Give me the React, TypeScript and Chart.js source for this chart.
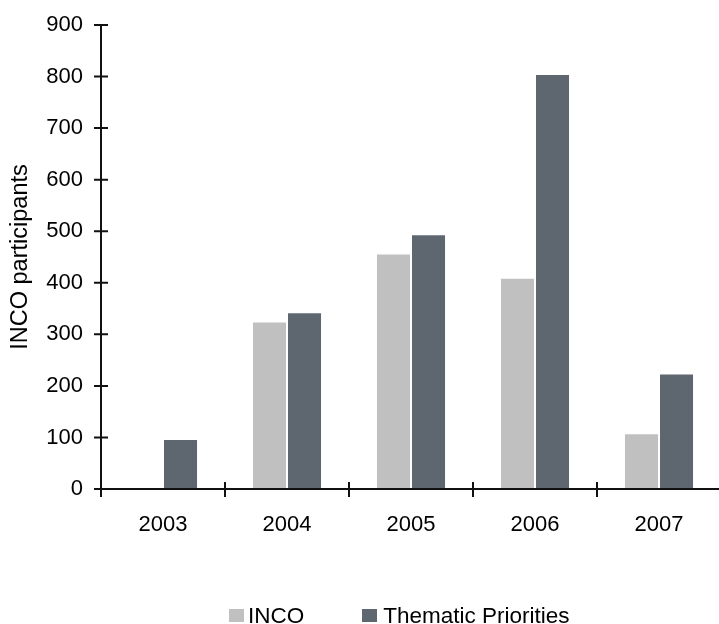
import React, { useEffect, useRef } from "react";
import { Chart, registerables } from "chart.js";

Chart.register(...registerables);

// Participants per call year
const years = ["2003", "2004", "2005", "2006", "2007"];
const incoParticipants = [0, 323, 455, 408, 106];
const thematicParticipants = [95, 341, 492, 803, 222];
const yTickValues = [0, 100, 200, 300, 400, 500, 600, 700, 800, 900];

const seriesNames = ["INCO", "Thematic Priorities"];
const seriesColors = ["#c0c0c0", "#5e6770"];
const yAxisTitle = "INCO participants";

const FONT = "'Liberation Sans', Arial, Helvetica, sans-serif";
const AXIS_COLOR = "#111";

// Axis lines with tick marks that cross the axis on both sides
const crossAxesPlugin = {
  id: "crossAxes",
  afterDatasetsDraw(chart: any) {
    const { ctx, chartArea, scales } = chart;
    const x = scales.x;
    const y = scales.y;
    const left = chartArea.left;
    const bottom = y.getPixelForValue(0);
    const top = y.getPixelForValue(yTickValues[yTickValues.length - 1]);
    ctx.save();
    ctx.strokeStyle = AXIS_COLOR;
    ctx.lineWidth = 2;
    ctx.lineCap = "butt";
    ctx.beginPath();
    // value axis
    ctx.moveTo(left, top);
    ctx.lineTo(left, bottom);
    y.ticks.forEach((_t: any, i: number) => {
      const py = y.getPixelForTick(i);
      ctx.moveTo(left - 7, py);
      ctx.lineTo(left + 7, py);
    });
    // category axis
    ctx.moveTo(left, bottom);
    ctx.lineTo(chartArea.right, bottom);
    for (let i = 0; i <= years.length; i++) {
      const px = x.getPixelForValue(i - 0.5);
      ctx.moveTo(px, bottom - 7);
      ctx.lineTo(px, bottom + 8);
    }
    ctx.stroke();
    ctx.restore();
  },
};

function Legend() {
  return (
    <div
      style={{
        position: "absolute",
        left: 229,
        top: 604,
        display: "flex",
        alignItems: "center",
        fontFamily: FONT,
        fontSize: 22.5,
        lineHeight: "23px",
        color: "#000",
        whiteSpace: "nowrap",
      }}
    >
      {seriesNames.map((name, i) => (
        <div
          key={name}
          style={{
            display: "flex",
            alignItems: "center",
            marginLeft: i === 0 ? 0 : 58,
          }}
        >
          <span
            style={{
              display: "inline-block",
              width: 15,
              height: 13,
              background: seriesColors[i],
              marginRight: i === 0 ? 4 : 6,
            }}
          />
          <span>{name}</span>
        </div>
      ))}
    </div>
  );
}

export default function App() {
  const canvasRef = useRef<HTMLCanvasElement | null>(null);

  useEffect(() => {
    const canvas = canvasRef.current;
    if (!canvas) return;
    const chart = new Chart(canvas, {
      type: "bar",
      data: {
        labels: years,
        datasets: [
          {
            label: seriesNames[0],
            data: incoParticipants,
            backgroundColor: seriesColors[0],
            borderWidth: 0,
          },
          {
            label: seriesNames[1],
            data: thematicParticipants,
            backgroundColor: seriesColors[1],
            borderWidth: 0,
          },
        ],
      },
      options: {
        responsive: false,
        maintainAspectRatio: false,
        animation: false,
        devicePixelRatio: 1,
        layout: { padding: { top: 25, right: 3, left: 0, bottom: 0 } },
        datasets: {
          bar: { categoryPercentage: 0.565, barPercentage: 0.943 },
        },
        plugins: {
          legend: { display: false },
          tooltip: { enabled: false },
        },
        scales: {
          x: {
            offset: true,
            grid: { display: false },
            border: { display: false },
            ticks: {
              color: "#000",
              font: { family: FONT, size: 22 },
              padding: 15,
              maxRotation: 0,
            },
            afterFit: (scale: any) => {
              scale.height = 135;
              scale.paddingLeft = 0;
              scale.paddingRight = 0;
            },
          },
          y: {
            min: 0,
            max: 900,
            grid: { display: false },
            border: { display: false },
            afterBuildTicks: (scale: any) => {
              scale.ticks = yTickValues.map((v) => ({ value: v }));
            },
            ticks: {
              color: "#000",
              font: { family: FONT, size: 22 },
              padding: 10,
            },
            title: {
              display: true,
              text: yAxisTitle,
              color: "#000",
              font: { family: FONT, size: 23.5 },
              padding: { top: 6, bottom: 0 },
            },
            afterFit: (scale: any) => {
              scale.width = 101;
              scale.paddingTop = 0;
              scale.paddingBottom = 0;
            },
          },
        },
      },
      plugins: [crossAxesPlugin],
    });
    return () => chart.destroy();
  }, []);

  return (
    <div
      style={{
        position: "absolute",
        left: 0,
        top: 0,
        width: 719,
        height: 624,
        overflow: "hidden",
        background: "#fff",
      }}
    >
      <canvas ref={canvasRef} width={724} height={624} style={{ display: "block" }} />
      <Legend />
    </div>
  );
}
